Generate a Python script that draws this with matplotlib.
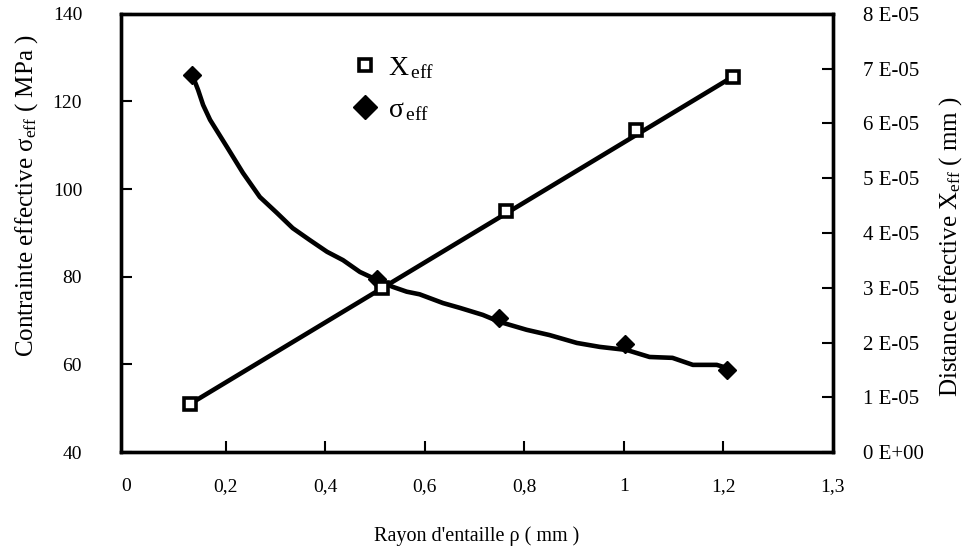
import matplotlib.pyplot as plt
from matplotlib.lines import Line2D

plt.rcParams['font.family'] = ['Liberation Serif', 'DejaVu Serif']
plt.rcParams['mathtext.fontset'] = 'custom'
plt.rcParams['mathtext.rm'] = 'Liberation Serif'
plt.rcParams['mathtext.it'] = 'Liberation Serif:italic'
plt.rcParams['mathtext.bf'] = 'Liberation Serif:bold'

# sigma_eff points (MPa, left axis)
rho_sigma = [0.133, 0.504, 0.749, 1.002, 1.207]
sigma_eff = [126.1, 79.5, 70.6, 64.6, 58.8]

# fitted curve through sigma_eff
rho_fit = [0.133, 0.145, 0.155, 0.169, 0.203, 0.235, 0.269, 0.303, 0.335,
           0.369, 0.404, 0.436, 0.470, 0.504, 0.536, 0.564, 0.590, 0.637,
           0.671, 0.717, 0.751, 0.805, 0.851, 0.906, 0.952, 1.006, 1.052,
           1.098, 1.139, 1.187, 1.207]
sigma_fit = [126.1, 122.6, 119.2, 115.8, 109.6, 103.7, 98.2, 94.6, 91.1,
             88.4, 85.7, 83.8, 81.1, 79.3, 77.7, 76.6, 76.0, 74.0,
             72.9, 71.3, 69.7, 67.9, 66.7, 64.9, 64.0, 63.3, 61.7,
             61.5, 59.9, 59.9, 59.2]

# X_eff points (mm, right axis)
rho_x = [0.129, 0.514, 0.763, 1.024, 1.219]
x_eff = [0.88e-5, 3.0e-5, 4.4e-5, 5.88e-5, 6.85e-5]
# straight fitted line for X_eff
rho_xfit = [0.129, 1.219]
x_fit = [0.88e-5, 6.85e-5]

x_ticks = [0.2, 0.4, 0.6, 0.8, 1.0, 1.2]
x_labels = ['0,2', '0,4', '0,6', '0,8', '1', '1,2']
x_edge_ticks = [0, 1.42]
x_edge_labels = ['0', '1,3']
left_ticks = [40, 60, 80, 100, 120, 140]
right_ticks = [0, 1e-5, 2e-5, 3e-5, 4e-5, 5e-5, 6e-5, 7e-5, 8e-5]
right_labels = ['0 E+00', '1 E-05', '2 E-05', '3 E-05', '4 E-05',
                '5 E-05', '6 E-05', '7 E-05', '8 E-05']

fig = plt.figure(figsize=(9.71, 5.52), dpi=100)
ax = fig.add_axes([0.1246, 0.181, 0.733, 0.794])
ax2 = ax.twinx()

ax.plot(rho_fit, sigma_fit, color='black', lw=3.3, solid_capstyle='round')
ax.plot(rho_sigma, sigma_eff, linestyle='none', marker='D', ms=9,
        color='black')
ax2.plot(rho_xfit, x_fit, color='black', lw=3.3, solid_capstyle='round')
ax2.plot(rho_x, x_eff, linestyle='none', marker='s', ms=8.5,
         mfc='white', mec='black', mew=2.6)

ax.set_xlim(-0.01, 1.42)
ax.set_ylim(40, 140)
ax2.set_ylim(0, 8e-5)

ax.set_xticks(x_ticks)
ax.set_xticklabels(x_labels)
ax.set_xticks(x_edge_ticks, minor=True)
ax.set_xticklabels(x_edge_labels, minor=True)
ax.set_yticks(left_ticks)
ax2.set_yticks(right_ticks)
ax2.set_yticklabels(right_labels)

ax.tick_params(axis='x', which='major', direction='in', length=8, width=1.5,
               pad=19, labelsize=14)
ax.tick_params(axis='x', which='minor', direction='in', length=0,
               pad=19, labelsize=14)
ax.tick_params(axis='y', direction='in', length=8, width=1.5, pad=28, labelsize=14)
ax2.tick_params(axis='y', direction='in', length=8, width=1.5, pad=22, labelsize=15)

for sp in ax.spines.values():
    sp.set_linewidth(2.4)
for sp in ax2.spines.values():
    sp.set_linewidth(2.4)

ax.set_xlabel("Rayon d'entaille ρ ( mm )", fontsize=14.5, labelpad=22)
ax.set_ylabel('Contrainte effective σ$_{\\mathrm{eff}}$ ( MPa )', fontsize=18)
ax.yaxis.set_label_coords(-0.114, 0.584)
ax2.set_ylabel('Distance effective X$_{\\mathrm{eff}}$ ( mm )', fontsize=18)
ax2.yaxis.set_label_coords(1.147, 0.47)

# legend proxies
h_x = Line2D([], [], linestyle='none', marker='s', ms=8, mfc='white',
             mec='black', mew=2.6)
h_s = Line2D([], [], linestyle='none', marker='D', ms=12, color='black')
ax2.legend([h_x, h_s], ['X$_{\\,\\mathrm{eff}}$', 'σ$_{\\,\\mathrm{eff}}$'],
           loc='upper left', bbox_to_anchor=(0.288, 0.963), frameon=False,
           fontsize=20, labelspacing=0.6, handletextpad=0.35,
           handlelength=1.0)

plt.savefig('out.png', dpi=100)
